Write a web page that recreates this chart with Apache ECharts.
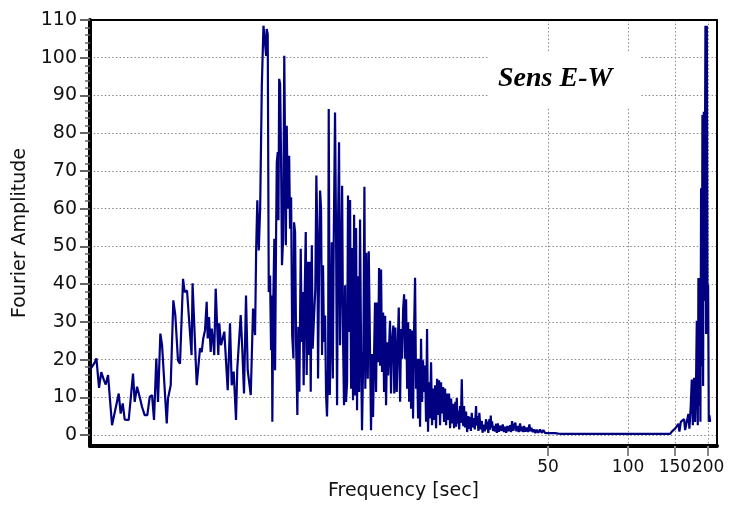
<!DOCTYPE html>
<html>
<head>
<meta charset="utf-8">
<script src="https://cdn.jsdelivr.net/npm/echarts@6/dist/echarts.min.js"></script>
<style>html,body{margin:0;padding:0;background:#fff}#c{width:730px;height:507px}</style>
</head>
<body>
<div id="c"></div>
<script>
// ---- Data (frequency, Fourier amplitude) ----
const sparseBand = [[0.95,17.5],[0.985,19.2],[1.0,20.3],[1.023,12.5],[1.043,16.7],[1.068,14.5],[1.084,13.4],[1.106,15.9],[1.145,2.6],[1.213,11],[1.234,5.7],[1.256,8.4],[1.278,4.1],[1.323,4.0],[1.373,16.3],[1.393,8.8],[1.422,12.8],[1.455,10.1],[1.484,7.5],[1.519,5.3],[1.554,5.3],[1.587,10.1],[1.619,10.6],[1.647,4.0],[1.68,20.3],[1.705,8.8],[1.74,26.9],[1.766,23.8],[1.839,3.1],[1.859,9.7],[1.903,13.2],[1.947,35.7],[1.981,31.7],[2.027,19.8],[2.063,18.9],[2.118,41.4],[2.148,37.9],[2.192,38.3],[2.28,21.2],[2.30,40.2],[2.384,13.2],[2.453,23],[2.489,22],[2.523,25.6],[2.562,27.8],[2.599,35.3],[2.622,25.6],[2.652,31.3],[2.691,22],[2.715,28.2],[2.752,24.7],[2.775,21.2],[2.81,38.8],[2.842,39.3],[2.874,21.2],[2.899,29.6],[2.943,23.8],[2.976,23.4],[3.028,27.4],[3.065,26.9],[3.118,11.9],[3.181,29.6],[3.228,13.2],[3.284,16.8],[3.351,4],[3.388,17.7],[3.439,17.2],[3.49,31.8],[3.539,22.5],[3.591,11],[3.654,37],[3.708,17.2],[3.807,10.6],[3.884,33.5],[3.952,26.5]];
const peakBand = [[3.99,49.4],[4.03,62.2],[4.08,48.9],[4.13,60],[4.19,92.6],[4.25,108.5],[4.31,108],[4.35,100.5],[4.37,107.6],[4.41,106.3],[4.45,37.9],[4.50,42.3],[4.54,22.5],[4.57,37],[4.59,3.5],[4.63,36.2],[4.67,52],[4.70,17.2],[4.74,52],[4.77,72.3],[4.81,75],[4.84,56.9],[4.87,94.4],[4.91,93],[4.95,73.2],[4.99,45],[5.04,52],[5.09,100.5],[5.16,50.3],[5.20,82],[5.25,60],[5.31,74],[5.35,54.7],[5.40,63],[5.45,26.5],[5.51,20.3],[5.54,56.4],[5.59,53.8],[5.64,23.8],[5.70,5.3],[5.75,28.7],[5.80,11.5],[5.87,49.4],[5.92,24.7],[5.97,37.9],[6.02,13.2],[6.08,39.2],[6.13,53.8],[6.18,15.9],[6.24,45.9],[6.29,21.2],[6.35,45.9],[6.40,11.5],[6.46,50.3],[6.51,22.9],[6.59,31.7],[6.66,38.8],[6.72,68.8],[6.78,52],[6.82,15],[6.88,44.1],[6.94,64.8],[7.00,60],[7.06,21.2],[7.12,45],[7.18,24.7],[7.25,31.7],[7.31,10.6],[7.37,4.9],[7.44,17.6],[7.48,86.4],[7.55,10.6],[7.61,25.6],[7.68,51.1],[7.75,15],[7.81,51.1],[7.90,85.5],[7.97,53.8],[8.04,7.9],[8.11,56.4],[8.18,77.6],[8.25,23.8],[8.32,42.3],[8.40,66.1],[8.47,24.7],[8.54,7.9],[8.62,39.7],[8.69,8.8],[8.77,14.1],[8.84,63.5],[8.92,27.3]];
const tailBand = [[9.00,62.3],[9.08,12.3],[9.16,49.6],[9.23,9.2],[9.32,58.4],[9.40,10.5],[9.48,54.9],[9.56,6.6],[9.64,42.1],[9.73,11.4],[9.81,57.1],[9.90,21.9],[9.98,1.3],[10.10,22.8],[10.19,65.8],[10.27,12.3],[10.36,48.3],[10.49,14.9],[10.58,48.7],[10.70,21.9],[10.79,1.3],[10.89,21.5],[10.98,4.8],[11.08,21.9],[11.17,35.1],[11.27,11.4],[11.37,35.1],[11.47,19.3],[11.57,44.3],[11.67,18.4],[11.77,43.9],[11.87,16.7],[11.98,32.5],[12.08,11.4],[12.19,31.6],[12.29,7.9],[12.40,24.6],[12.51,15.8],[12.62,23.7],[12.72,30.3],[12.83,11],[12.94,24.6],[13.09,29],[13.20,11],[13.32,28.5],[13.48,11.4],[13.60,23.7],[13.72,33.8],[13.88,8.8],[14.00,28.1],[14.12,20.2],[14.25,33.4],[14.37,37.3],[14.50,20.2],[14.62,36],[14.75,12.3],[14.88,29.9],[15.01,8.8],[15.13,28.1],[15.26,7],[15.39,27.7],[15.53,4.4],[15.66,27.2],[15.80,41.7],[15.94,12.3],[16.08,20.2],[16.22,4.4],[16.36,20.2],[16.50,2.2],[16.64,25.5],[16.79,8.8],[16.93,19.8],[17.08,11.4],[17.23,18.4],[17.38,3.5],[17.53,28.1],[17.68,0.9],[17.84,14],[17.99,4.4],[18.15,19.3],[18.31,2.6],[18.46,12.3],[18.62,4],[18.79,13.2],[18.95,1.8],[19.12,14.9],[19.28,5.3],[19.45,14.5],[19.62,2.6],[19.79,14],[19.96,5.7],[20.14,12.7],[20.31,3.5],[20.49,12.3],[20.67,2.6],[20.85,11],[21.03,4],[21.21,11],[21.40,1.8],[21.59,9.7],[21.77,3.1],[21.96,8.3],[22.15,1.8]];
const lowTailBand = [[22.41,8.8],[22.55,2.2],[22.68,9.8],[22.84,3.0],[23.0,6.5],[23.16,1.5],[23.33,7.7],[23.5,3.2],[23.68,14.8],[23.85,4.0],[24.01,2.4],[24.15,7.7],[24.36,2.0],[24.58,6.2],[24.8,0.8],[25.07,5],[25.25,1.6],[25.44,4.8],[25.62,1.1],[25.82,5.9],[26.0,2.0],[26.18,4.5],[26.5,1.5],[26.80,7.7],[26.95,2.5],[27.10,5.0],[27.35,1.1],[27.57,5.9],[27.85,1.5],[28.16,3.8],[28.35,0.6],[28.55,2.8],[28.9,1.0],[29.23,4.2],[29.4,1.5],[29.56,3.6],[29.8,0.6],[30.08,4.2],[30.25,1.4],[30.44,5.2],[30.6,2.0],[30.79,3.6],[31.05,1.1],[31.33,2.4],[31.6,0.9],[31.88,3.0],[32.1,0.6],[32.35,3.1],[32.65,0.9],[32.99,2.5],[33.4,1.1],[33.77,2.8],[34.1,0.8],[34.45,2.2],[34.8,0.6],[35.14,2.4],[35.55,1.0],[35.98,2.6],[36.3,0.8],[36.61,3.7],[37.02,1.1],[37.35,2.6],[37.67,3.3],[38.0,1.0],[38.33,2.4],[38.8,0.8],[39.24,3.1],[39.6,1.0],[39.93,2.2],[40.3,0.8],[40.63,2.4],[41.1,0.9],[41.59,2.0],[42.05,0.8],[42.53,2.8],[42.9,1.0],[43.27,1.9],[43.8,0.8],[44.30,1.5],[44.8,0.5],[45.35,1.4],[46.0,0.6],[46.66,1.5],[47.3,0.6],[48.01,1.3],[48.7,0.6],[49.45,1.1],[50.1,0.5],[50.88,1.0],[51.6,0.5],[52.36,1.0],[53.1,0.5],[53.92,0.8],[54.68,0.4]];
const flatBand = [[56.5,0.3],[80,0.3],[110,0.3],[144,0.3]];
const spikeBand = [[146.0,0.9],[148.1,1.3],[150.3,1.7],[152.5,1.2],[154.6,3],[156.0,0.9],[157.9,3.5],[160.1,3.9],[162.4,4.2],[163.9,1.3],[166.3,3.6],[168.6,5.6],[170.1,1.7],[172.1,7.8],[173.6,14.7],[175.2,2.6],[177.1,15.2],[178.7,3.5],[180.2,14.7],[181.3,30.3],[182.9,2.6],[183.9,41.6],[185.0,7.8],[186.1,41.6],[187.1,3.5],[188.2,65.4],[189.4,18.2],[190.4,84.8],[191.5,13],[192.7,85.7],[193.7,35.5],[195.4,108.5],[196.6,26.8],[197.8,108.5],[198.8,39],[200.0,39.8],[201.2,3.5],[202.3,5.2],[203.5,3.5]];

// ---- Axis ticks / labels ----
const xTickValues = [50, 100, 150, 200];
const yTickValues = [0, 10, 20, 30, 40, 50, 60, 70, 80, 90, 100, 110];
const yMinorStep = 2;
const yMinorTickValues = [];
for (let v = 0; v <= 110; v += yMinorStep) yMinorTickValues.push(v);

const titleText = 'Sens E-W';
const xName = 'Frequency [sec]';
const yName = 'Fourier Amplitude';

const seriesData = [].concat(sparseBand, peakBand, tailBand, lowTailBand, flatBand, spikeBand);

const gridColor = '#8a8a8a';
const dotted = [1.5, 2.2];
const labelFont = 'DejaVu Sans';

const chart = echarts.init(document.getElementById('c'), null, {renderer: 'canvas', width: 730, height: 507});
chart.setOption({
  animation: false,
  backgroundColor: '#ffffff',
  title: {
    text: titleText,
    left: 488, top: 51,
    backgroundColor: '#ffffff',
    padding: [14, 28, 14, 10],
    textStyle: {fontFamily: 'Liberation Serif', fontStyle: 'italic', fontWeight: 'bold', fontSize: 28, color: '#000'}
  },
  grid: {left: 90, right: 13, top: 20, bottom: 61},
  xAxis: [{
    type: 'log', logBase: 10, min: 0.946, max: 216,
    position: 'bottom',
    name: xName, nameLocation: 'middle', nameGap: 36,
    nameTextStyle: {fontFamily: labelFont, fontSize: 19, color: '#111'},
    axisLine: {show: true, onZero: false, lineStyle: {color: '#000', width: 4}},
    axisTick: {show: true, customValues: xTickValues, length: 10, lineStyle: {color: '#888', width: 2}},
    axisLabel: {show: true, customValues: xTickValues, margin: 13, fontFamily: labelFont, fontSize: 17, color: '#111',
      hideOverlap: false, showMinLabel: true, showMaxLabel: true},
    splitLine: {show: true, lineStyle: {color: gridColor, type: dotted, width: 1}},
    minorTick: {show: false}, minorSplitLine: {show: false}
  }, {
    type: 'value', position: 'top', min: 0, max: 1,
    axisLine: {show: true, onZero: false, lineStyle: {color: '#000', width: 2}},
    axisTick: {show: false}, axisLabel: {show: false}, splitLine: {show: false}
  }],
  yAxis: [{
    type: 'value', min: -2.9, max: 110, position: 'left',
    name: yName, nameLocation: 'middle', nameGap: 58,
    nameTextStyle: {fontFamily: labelFont, fontSize: 19, color: '#111'},
    axisLine: {show: true, onZero: false, lineStyle: {color: '#000', width: 4}},
    axisTick: {show: true, customValues: yTickValues, length: 10, lineStyle: {color: '#666', width: 2}},
    axisLabel: {show: true, customValues: yTickValues, margin: 13, fontFamily: labelFont, fontSize: 19, color: '#111',
      showMinLabel: true, showMaxLabel: true},
    splitLine: {show: true, lineStyle: {color: gridColor, type: dotted, width: 1}}
  }, {
    type: 'value', min: -2.9, max: 110, position: 'left',
    axisLine: {show: false},
    axisTick: {show: true, customValues: yMinorTickValues, length: 5, lineStyle: {color: '#666', width: 1.5}},
    axisLabel: {show: false}, splitLine: {show: false}
  }, {
    type: 'value', min: 0, max: 1, position: 'right',
    axisLine: {show: true, onZero: false, lineStyle: {color: '#000', width: 2}},
    axisTick: {show: false}, axisLabel: {show: false}, splitLine: {show: false}
  }],
  series: [{
    type: 'line',
    xAxisIndex: 0, yAxisIndex: 0,
    data: seriesData,
    showSymbol: false,
    symbol: 'none',
    sampling: null,
    lineStyle: {color: '#000080', width: 2.2},
    z: 3
  }]
});
</script>
</body>
</html>
